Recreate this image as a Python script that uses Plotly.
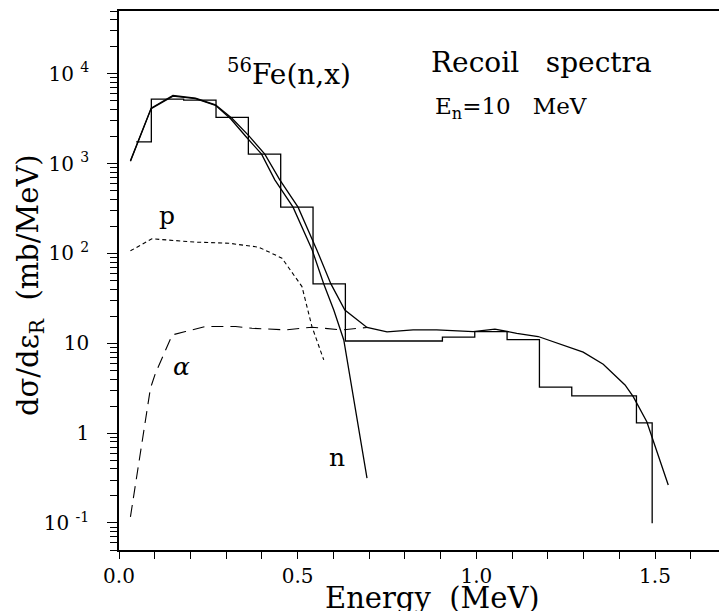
import plotly.graph_objects as go

# Recoil spectra of 56Fe(n,x) at En = 10 MeV
# Histogram: bin edges (MeV) and values (mb/MeV)
hist_edges = [0.048, 0.0905, 0.181, 0.2715, 0.362, 0.4525, 0.543, 0.6335,
              0.905, 0.9955, 1.086, 1.1765, 1.267, 1.448, 1.492]
hist_values = [1750, 5230, 5100, 3265, 1276, 328, 45.8, 10.6,
               11.7, 13.5, 11.0, 3.25, 2.6, 1.30]
hist_floor = 0.099

# Total recoil spectrum (solid)
total_x = [0.032, 0.090, 0.151, 0.214, 0.270, 0.316, 0.363, 0.408, 0.450,
           0.501, 0.553, 0.593, 0.632, 0.694, 0.750, 0.823, 0.889, 0.954,
           0.991, 1.052, 1.085, 1.113, 1.173, 1.225, 1.299, 1.355, 1.416,
           1.439, 1.477, 1.537]
total_y = [1075, 4150, 5730, 5360, 4520, 3200, 2050, 1276, 660,
           328, 111, 45.8, 23.5, 15.0, 13.4, 14.1, 14.1, 13.8,
           13.5, 14.4, 13.5, 12.9, 11.9, 10.0, 7.96, 5.85, 3.44,
           2.55, 1.34, 0.265]

# Neutron-induced component (solid)
n_x = [0.032, 0.090, 0.151, 0.214, 0.270, 0.313, 0.355, 0.399, 0.436,
       0.487, 0.540, 0.573, 0.601, 0.629, 0.694]
n_y = [1060, 4100, 5650, 5300, 4450, 3135, 2005, 1276, 660,
       328, 111, 45.8, 23.5, 10.9, 0.315]

# Proton component (short dashes)
p_x = [0.032, 0.092, 0.214, 0.307, 0.391, 0.456, 0.512, 0.540, 0.573]
p_y = [107, 145.6, 133.7, 130, 117.5, 88.7, 42.8, 15.3, 6.53]

# Alpha component (long dashes)
a_x = [0.032, 0.074, 0.088, 0.102, 0.149, 0.186, 0.242, 0.326, 0.372,
       0.466, 0.540, 0.624, 0.694]
a_y = [0.117, 1.29, 3.16, 4.64, 12.4, 13.5, 15.4, 15.4, 14.7,
       14.1, 15.1, 14.1, 15.0]

y_ticks = [0.1, 1, 10, 100, 1000, 10000]
y_ticktext = ["10 <sup>-1</sup>", "1", "10", "10 <sup>2</sup>",
              "10 <sup>3</sup>", "10 <sup>4</sup>"]
x_ticks = [0.0, 0.5, 1.0, 1.5]
x_ticktext = ["0.0", "0.5", "1.0", "1.5"]

FONT = "DejaVu Serif"
INK = "black"

# step outline of the histogram, closed down to the floor at the last edge
hx = hist_edges[:-1] + [hist_edges[-1], hist_edges[-1]]
hy = hist_values + [hist_values[-1], hist_floor]

fig = go.Figure()
fig.add_trace(go.Scatter(x=hx, y=hy, mode="lines", line_shape="hv",
                         line=dict(color=INK, width=1.3)))
fig.add_trace(go.Scatter(x=total_x, y=total_y, mode="lines",
                         line=dict(color=INK, width=1.3)))
fig.add_trace(go.Scatter(x=n_x, y=n_y, mode="lines",
                         line=dict(color=INK, width=1.3)))
fig.add_trace(go.Scatter(x=p_x, y=p_y, mode="lines",
                         line=dict(color=INK, width=1.1, dash="4px,3px")))
fig.add_trace(go.Scatter(x=a_x, y=a_y, mode="lines",
                         line=dict(color=INK, width=1.1, dash="12px,7px")))

minor_y = [m * 10.0 ** e for e in range(-2, 5) for m in range(2, 10)
           if 0.05 <= m * 10.0 ** e <= 50000]

fig.update_xaxes(range=[0, 1.679], tickvals=x_ticks, ticktext=x_ticktext,
                 ticks="outside", ticklen=7, tickwidth=1.2, tickcolor=INK,
                 showline=True, linecolor=INK, linewidth=1.5, mirror=True,
                 showgrid=False, zeroline=False,
                 tickfont=dict(family=FONT, size=20, color=INK),
                 minor=dict(dtick=0.1, tick0=0, ticks="outside", ticklen=7,
                            tickwidth=1.2, tickcolor=INK, showgrid=False))
fig.update_yaxes(type="log", range=[-1.301, 4.699], tickvals=y_ticks,
                 ticktext=y_ticktext, ticks="outside", ticklen=10,
                 tickwidth=1.2, tickcolor=INK, showline=True, linecolor=INK,
                 linewidth=1.5, mirror=False, showgrid=False, zeroline=False,
                 ticklabelstandoff=14,
                 tickfont=dict(family=FONT, size=20, color=INK),
                 minor=dict(tickvals=minor_y, ticks="outside", ticklen=7,
                            tickwidth=1.0, tickcolor=INK, showgrid=False))

labels = [
    ("<sup>56</sup>Fe(n,x)", 0.476, 4.011, 28),
    ("Recoil   spectra", 1.181, 4.122, 28),
    ("E<sub>n</sub>=10   MeV", 1.097, 3.621, 23),
    ("p", 0.134, 2.419, 25),
    ("<i>α</i>", 0.176, 0.737, 25),
    ("n", 0.610, -0.276, 25),
]
for text, x, y, size in labels:
    fig.add_annotation(text=text, x=x, y=y, xref="x", yref="y",
                       showarrow=False, xanchor="center", yanchor="middle",
                       font=dict(family=FONT, color=INK, size=size))

fig.add_annotation(text="Energy  (MeV)", x=0.523, y=-0.089, xref="paper",
                   yref="paper", showarrow=False, xanchor="center",
                   yanchor="middle", font=dict(family=FONT, size=29, color=INK))
fig.add_annotation(text="dσ/dε<sub>R</sub>  (mb/MeV)", x=-0.148, y=0.492,
                   xref="paper", yref="paper", textangle=-90, showarrow=False,
                   xanchor="center", yanchor="middle",
                   font=dict(family=FONT, size=29, color=INK))

fig.update_layout(width=719, height=611, showlegend=False,
                  margin=dict(l=119, r=0, t=11, b=61),
                  paper_bgcolor="white", plot_bgcolor="white")

fig.write_html("out.html")
